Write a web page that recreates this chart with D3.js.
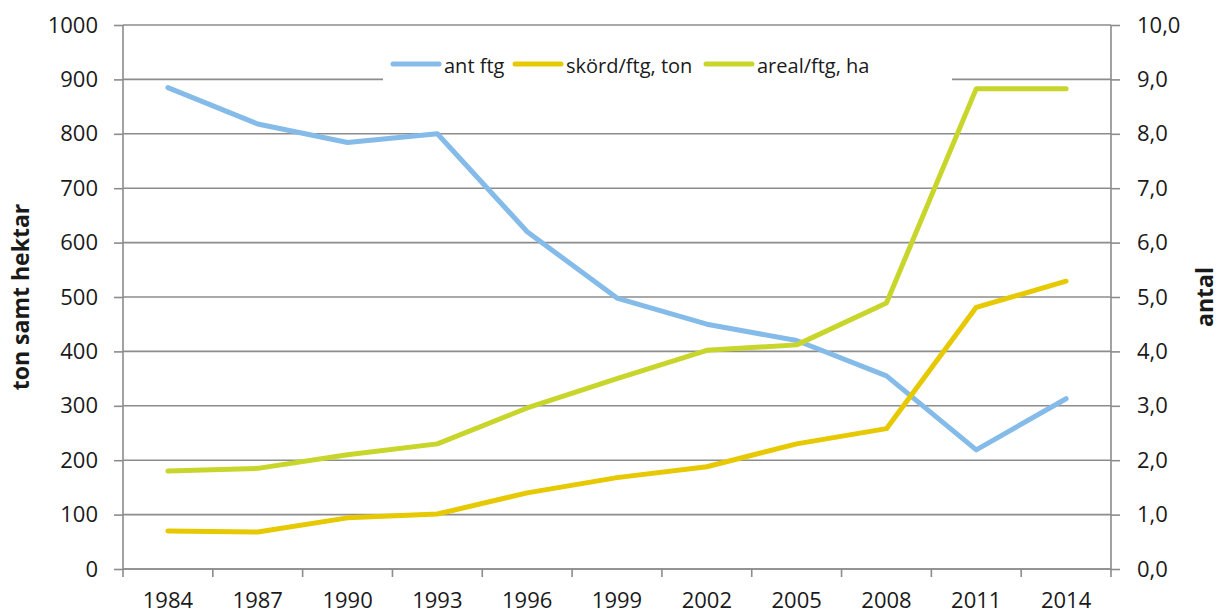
<!DOCTYPE html>
<html>
<head>
<meta charset="utf-8">
<script src="https://cdn.jsdelivr.net/npm/d3@7"></script>
<style>
  body { margin: 0; background: #fff; }
  text { font-family: "Open Sans", sans-serif; fill: #1a1a1a; }
</style>
</head>
<body>
<div id="chart"></div>
<script>
const years = ["1984", "1987", "1990", "1993", "1996", "1999", "2002", "2005", "2008", "2011", "2014"];
const antFtg = [8.85, 8.18, 7.84, 8.0, 6.2, 4.98, 4.5, 4.2, 3.55, 2.19, 3.13];
const skordFtg = [70, 68, 94, 101, 140, 168, 188, 230, 258, 481, 529];
const arealFtg = [180, 185, 210, 230, 296, 350, 402, 412, 489, 883, 883];
const leftTicks = [0, 100, 200, 300, 400, 500, 600, 700, 800, 900, 1000];
const rightTicks = [0, 1, 2, 3, 4, 5, 6, 7, 8, 9, 10];

const width = 1221, height = 614;
const margin = { top: 25, right: 110, bottom: 45, left: 123 };

const svg = d3.select("#chart").append("svg")
  .attr("width", width)
  .attr("height", height);

const x = d3.scaleBand()
  .domain(years)
  .range([margin.left, width - margin.right]);

const yLeft = d3.scaleLinear()
  .domain([0, 1000])
  .range([height - margin.bottom, margin.top]);

const yRight = d3.scaleLinear()
  .domain([0, 10])
  .range([height - margin.bottom, margin.top]);

const gridColor = "#8c8c8c";
const fontFamily = "'Open Sans', sans-serif";

// gridlines
svg.append("g")
  .selectAll("line")
  .data(leftTicks)
  .enter()
  .append("line")
  .attr("x1", margin.left)
  .attr("x2", width - margin.right)
  .attr("y1", d => yLeft(d))
  .attr("y2", d => yLeft(d))
  .attr("stroke", gridColor)
  .attr("stroke-width", 1.6);

// left axis
const leftAxis = svg.append("g")
  .attr("transform", `translate(${margin.left},0)`)
  .call(d3.axisLeft(yLeft).tickValues(leftTicks).tickSize(9).tickPadding(16).tickFormat(d3.format("d")));

// right axis
const rightAxis = svg.append("g")
  .attr("transform", `translate(${width - margin.right},0)`)
  .call(d3.axisRight(yRight).tickValues(rightTicks).tickSize(9).tickPadding(17)
    .tickFormat(d => d.toFixed(1).replace(".", ",")));

// bottom axis, ticks at band edges
const bottomAxis = svg.append("g")
  .attr("transform", `translate(0,${height - margin.bottom})`)
  .call(d3.axisBottom(x).tickSize(0).tickPadding(24));

bottomAxis.selectAll(".edge")
  .data(years.concat(["end"]))
  .enter()
  .append("line")
  .attr("class", "edge")
  .attr("x1", (d, i) => i < years.length ? x(d) : x.range()[1])
  .attr("x2", (d, i) => i < years.length ? x(d) : x.range()[1])
  .attr("y1", 0)
  .attr("y2", 8)
  .attr("stroke", gridColor)
  .attr("stroke-width", 1.6);

[leftAxis, rightAxis, bottomAxis].forEach(g => {
  g.selectAll(".domain").attr("stroke", gridColor).attr("stroke-width", 1.6);
  g.selectAll(".tick line").attr("stroke", gridColor).attr("stroke-width", 1.6);
  g.selectAll(".tick text").attr("font-size", "22px").attr("fill", "#1a1a1a")
    .style("font-family", fontFamily);
});
rightAxis.select(".domain").attr("d", `M0,${yRight(10)}V${yRight(0)}`);
leftAxis.select(".domain").attr("d", `M0,${yLeft(1000)}V${yLeft(0)}`);
bottomAxis.select(".domain").attr("d", `M${x.range()[0]},0H${x.range()[1]}`);
bottomAxis.selectAll(".tick text").attr("dy", "0.68em");

// axis titles
svg.append("text")
  .attr("transform", `translate(29,${(margin.top + height - margin.bottom) / 2}) rotate(-90)`)
  .attr("text-anchor", "middle")
  .attr("font-size", "23px")
  .attr("font-weight", "bold")
  .text("ton samt hektar");

svg.append("text")
  .attr("transform", `translate(1213,${(margin.top + height - margin.bottom) / 2}) rotate(-90)`)
  .attr("text-anchor", "middle")
  .attr("font-size", "23px")
  .attr("font-weight", "bold")
  .text("antal");

// lines
const cx = d => x(d) + x.bandwidth() / 2;

const series = [
  { name: "ant ftg", values: antFtg, scale: yRight, color: "#85bbe8" },
  { name: "skörd/ftg, ton", values: skordFtg, scale: yLeft, color: "#e6c900" },
  { name: "areal/ftg, ha", values: arealFtg, scale: yLeft, color: "#c8d52a" }
];

series.forEach(s => {
  const line = d3.line()
    .x((d, i) => cx(years[i]))
    .y(d => s.scale(d));
  svg.append("path")
    .datum(s.values)
    .attr("d", line)
    .attr("fill", "none")
    .attr("stroke", s.color)
    .attr("stroke-width", 5)
    .attr("stroke-linejoin", "round")
    .attr("stroke-linecap", "round");
});

// legend
const legendGroup = svg.append("g");
legendGroup.append("rect")
  .attr("x", 383)
  .attr("y", 48)
  .attr("width", 569)
  .attr("height", 36)
  .attr("fill", "#fff");

const legendX = [393, 515, 706];
series.forEach((s, i) => {
  legendGroup.append("line")
    .attr("x1", legendX[i])
    .attr("x2", legendX[i] + 46)
    .attr("y1", 64)
    .attr("y2", 64)
    .attr("stroke", s.color)
    .attr("stroke-width", 5)
    .attr("stroke-linecap", "round");
  legendGroup.append("text")
    .attr("x", legendX[i] + 51)
    .attr("y", 73)
    .attr("font-size", "20px")
    .text(s.name);
});
</script>
</body>
</html>
